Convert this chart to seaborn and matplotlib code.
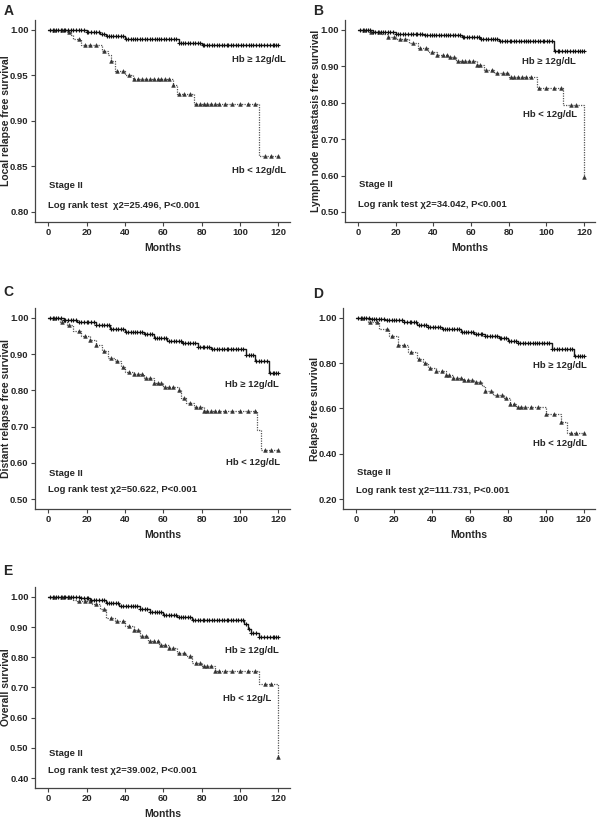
import numpy as np
import pandas as pd
import matplotlib
matplotlib.use("Agg")
import matplotlib.pyplot as plt
import seaborn as sns

# Kaplan-Meier step curves
# panel A: local relapse free survival
a_hi_t = [0, 20, 27, 30, 40, 68, 80, 120]
a_hi_s = [1.0, 0.998, 0.996, 0.993, 0.990, 0.986, 0.983, 0.983]
a_lo_t = [0, 10, 12, 13, 17, 28, 31, 33, 35, 40, 44, 65, 67, 76, 110, 120]
a_lo_s = [1.0, 0.998, 0.994, 0.990, 0.983, 0.977, 0.972, 0.966, 0.955, 0.951, 0.946, 0.939, 0.930, 0.919, 0.862, 0.862]

# panel B: lymph node metastasis free survival
b_hi_t = [0, 8, 20, 35, 45, 55, 65, 75, 104, 120]
b_hi_s = [1.0, 0.995, 0.990, 0.987, 0.985, 0.980, 0.975, 0.971, 0.943, 0.943]
b_lo_t = [0, 6, 12, 16, 20, 27, 32, 37, 42, 48, 52, 63, 67, 72, 80, 95, 109, 120]
b_lo_s = [1.0, 0.995, 0.990, 0.982, 0.975, 0.965, 0.950, 0.940, 0.930, 0.925, 0.915, 0.905, 0.890, 0.882, 0.870, 0.840, 0.795, 0.595]

# panel C: distant relapse free survival
c_hi_t = [0, 8, 15, 25, 32, 40, 50, 55, 62, 70, 78, 85, 103, 108, 115, 120]
c_hi_s = [1.0, 0.995, 0.990, 0.980, 0.970, 0.960, 0.955, 0.945, 0.935, 0.930, 0.920, 0.914, 0.897, 0.880, 0.848, 0.848]
c_lo_t = [0, 6, 10, 13, 17, 22, 25, 28, 31, 35, 38, 40, 45, 50, 55, 60, 68, 69, 72, 76, 81, 109, 111, 120]
c_lo_s = [1.0, 0.990, 0.980, 0.965, 0.950, 0.940, 0.925, 0.910, 0.890, 0.880, 0.865, 0.850, 0.845, 0.835, 0.820, 0.810, 0.800, 0.780, 0.765, 0.753, 0.742, 0.690, 0.636, 0.636]

# panel D: relapse free survival
d_hi_t = [0, 7, 15, 25, 32, 38, 45, 55, 62, 68, 75, 80, 85, 103, 115, 120]
d_hi_s = [1.0, 0.995, 0.990, 0.980, 0.970, 0.960, 0.950, 0.940, 0.930, 0.920, 0.910, 0.900, 0.890, 0.863, 0.830, 0.830]
d_lo_t = [0, 6, 12, 17, 22, 27, 32, 35, 38, 42, 47, 51, 56, 62, 66, 68, 72, 78, 81, 84, 100, 108, 111, 120]
d_lo_s = [1.0, 0.980, 0.950, 0.920, 0.880, 0.850, 0.820, 0.800, 0.780, 0.765, 0.750, 0.735, 0.725, 0.715, 0.700, 0.675, 0.660, 0.645, 0.620, 0.605, 0.575, 0.540, 0.490, 0.490]

# panel E: overall survival
e_hi_t = [0, 17, 22, 30, 37, 48, 53, 60, 67, 75, 102, 104, 106, 110, 120]
e_hi_s = [1.0, 0.995, 0.990, 0.980, 0.970, 0.960, 0.950, 0.940, 0.933, 0.925, 0.910, 0.895, 0.880, 0.866, 0.866]
e_lo_t = [0, 13, 15, 23, 27, 30, 35, 40, 45, 48, 52, 58, 63, 67, 72, 75, 80, 87, 110, 120]
e_lo_s = [1.0, 0.990, 0.985, 0.975, 0.960, 0.930, 0.920, 0.905, 0.890, 0.870, 0.855, 0.840, 0.830, 0.815, 0.805, 0.780, 0.770, 0.755, 0.710, 0.470]

# censoring times (same patients in every endpoint)
hi_censor = [1, 2.5, 4, 5, 6.5, 8, 9, 10.5, 12, 13, 14.5, 16, 17, 18.5, 20, 21, 22.5, 24, 25,
             26.5, 28, 29, 30.5, 31.5, 33, 34, 35.5, 36.5, 38, 39, 40.5, 41.5, 43, 44, 45.5,
             46.5, 48, 49, 50.5, 51.5, 53, 54, 55.5, 56.5, 58, 59, 60.5, 61.5, 63, 64, 65.5,
             66.5, 68, 69, 70.5, 71.5, 73, 74, 75.5, 76.5, 78, 79, 80.5, 81.5, 83, 84, 85.5,
             86.5, 88, 89, 90.5, 91.5, 93, 94, 95.5, 96.5, 98, 99, 100.5, 101.5, 103, 104.5,
             106, 107, 108.5, 110, 111, 112.5, 114, 115.5, 117, 118, 119, 120]
lo_censor = [3, 7, 11, 16, 19, 22, 25, 29, 33, 36, 39, 42, 45, 47, 49, 51, 53, 55, 57, 59,
             61, 63, 65, 68, 71, 74, 77, 79, 81, 83, 85, 87, 89, 92, 96, 100, 104, 108,
             113, 116, 120]

panels = ["A", "B", "C", "D", "E"]
ylabels = ["Local relapse free survival", "Lymph node metastasis free survival",
           "Distant relapse free survival", "Relapse free survival", "Overall survival"]
ymins = [0.80, 0.50, 0.50, 0.20, 0.40]
ysteps = [0.05, 0.10, 0.10, 0.20, 0.10]
chi2_text = ["Log rank test  \u03c72=25.496, P<0.001", "Log rank test \u03c72=34.042, P<0.001",
             "Log rank test \u03c72=50.622, P<0.001", "Log rank test \u03c72=111.731, P<0.001",
             "Log rank test \u03c72=39.002, P<0.001"]
hi_label = ["Hb \u2265 12g/dL"] * 5
lo_label = ["Hb < 12g/dL", "Hb < 12g/dL", "Hb < 12g/dL", "Hb < 12g/dL", "Hb < 12g/L"]

curves = [(a_hi_t, a_hi_s, a_lo_t, a_lo_s), (b_hi_t, b_hi_s, b_lo_t, b_lo_s),
          (c_hi_t, c_hi_s, c_lo_t, c_lo_s), (d_hi_t, d_hi_s, d_lo_t, d_lo_s),
          (e_hi_t, e_hi_s, e_lo_t, e_lo_s)]

# label positions (x, y in data units)
hi_pos = [(124, 0.968), (115.6, 0.913), (120, 0.817), (121.4, 0.791), (120, 0.823)]
lo_pos = [(124, 0.846), (116.5, 0.767), (120.9, 0.602), (121.8, 0.444), (116.2, 0.664)]
stage_y = [0.829, 0.575, 0.570, 0.317, 0.480]
chi_y = [0.807, 0.520, 0.525, 0.239, 0.425]

rects = [[0.058, 0.7286, 0.425, 0.247], [0.575, 0.7286, 0.417, 0.247],
         [0.058, 0.3778, 0.425, 0.2457], [0.572, 0.3778, 0.420, 0.2457],
         [0.058, 0.0367, 0.425, 0.2457]]
letter_pos = [(0.006, 0.995), (0.522, 0.995), (0.006, 0.651), (0.522, 0.649), (0.006, 0.31)]

sns.set_style("ticks")
plt.rcParams['font.family'] = ['Liberation Sans', 'DejaVu Sans']
plt.rcParams['font.weight'] = 'bold'

fig = plt.figure(figsize=(6, 8.18), dpi=100)


def censor_points(t, s, cens):
    t = np.asarray(t)
    s = np.asarray(s)
    c = np.asarray([x for x in cens if x <= t[-1]])
    idx = np.searchsorted(t, c, side="right") - 1
    return pd.DataFrame({"t": c, "s": s[idx]})


for i, p in enumerate(panels):
    ax = fig.add_axes(rects[i])
    ht, hs, lt, ls = curves[i]
    hi_df = pd.DataFrame({"t": ht, "s": hs})
    lo_df = pd.DataFrame({"t": lt, "s": ls})

    sns.lineplot(data=lo_df, x="t", y="s", ax=ax, drawstyle="steps-post", color="#555555",
                 linestyle=(0, (1, 1)), linewidth=0.9, estimator=None, sort=False)
    sns.lineplot(data=hi_df, x="t", y="s", ax=ax, drawstyle="steps-post", color="#1a1a1a",
                 linewidth=1.0, estimator=None, sort=False)

    lc = censor_points(lt, ls, lo_censor)
    hc = censor_points(ht, hs, hi_censor)
    sns.scatterplot(data=lc, x="t", y="s", ax=ax, marker="^", s=7, color="#333333",
                    edgecolor="#333333", linewidth=0.4, zorder=3)
    sns.scatterplot(data=hc, x="t", y="s", ax=ax, marker="+", s=12, color="#111111",
                    linewidth=0.8, zorder=3)

    ymin = ymins[i]
    rng = 1.0 - ymin
    ax.set_ylim(ymin - 0.055 * rng, 1.0 + 0.055 * rng)
    ax.set_xlim(-7, 126)
    ax.set_xticks([0, 20, 40, 60, 80, 100, 120])
    ax.set_yticks(np.round(np.arange(ymin, 1.0001, ysteps[i]), 2))
    ax.yaxis.set_major_formatter(matplotlib.ticker.FormatStrFormatter("%.2f"))
    ax.tick_params(labelsize=6.8, length=3, width=0.8, color="#444444", pad=1.5)
    for lab in ax.get_xticklabels() + ax.get_yticklabels():
        lab.set_fontweight("bold")
    ax.set_xlabel("Months", fontsize=7.5, fontweight="bold", labelpad=4)
    ax.set_ylabel(ylabels[i], fontsize=7.5, fontweight="bold")
    ax.yaxis.set_label_coords(-0.094, 0.5)
    sns.despine(ax=ax)
    for sp in ["left", "bottom"]:
        ax.spines[sp].set_color("#444444")
        ax.spines[sp].set_linewidth(0.9)

    ax.text(hi_pos[i][0], hi_pos[i][1], hi_label[i], ha="right", va="center",
            fontsize=6.8, fontweight="bold")
    ax.text(lo_pos[i][0], lo_pos[i][1], lo_label[i], ha="right", va="center",
            fontsize=6.8, fontweight="bold")
    ax.text(0.5, stage_y[i], "Stage II", ha="left", va="center", fontsize=6.8, fontweight="bold")
    ax.text(0.0, chi_y[i], chi2_text[i], ha="left", va="center", fontsize=6.8, fontweight="bold")

    fig.text(letter_pos[i][0], letter_pos[i][1], p, ha="left", va="top",
             fontsize=10, fontweight="bold")

fig.savefig("out.png", dpi=100)
